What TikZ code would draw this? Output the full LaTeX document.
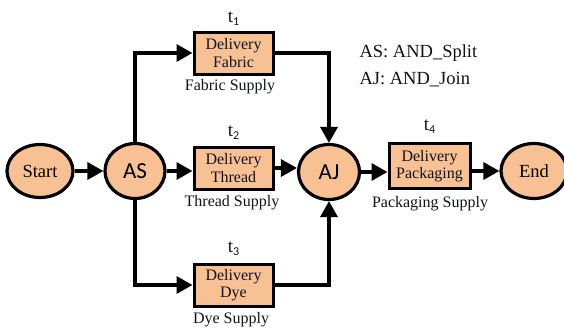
\documentclass[tikz,border=0pt]{standalone}
\usepackage{fontspec}
\setmainfont{Liberation Serif}
\newfontfamily\labfont{Carlito}
\usetikzlibrary{arrows.meta,shapes.geometric}
\definecolor{peach}{HTML}{F8C193}
\definecolor{txt}{HTML}{10131C}
\newcommand{\tsub}[1]{t\raisebox{-0.35ex}{\labfont\fontsize{12}{12}\selectfont #1}}
\tikzset{
  place/.style={ellipse, draw=black, line width=3.2pt, fill=peach, inner sep=0pt},
  trans/.style={draw=black, line width=3pt, fill=peach, minimum width=79pt, minimum height=42pt, align=center, inner sep=0pt, font=\fontsize{16}{17.5}\selectfont, text=txt},
  captext/.style={font=\fontsize{16}{18}\selectfont, text=txt},
  tlab/.style={font=\fontsize{19}{20}\selectfont, text=txt},
  conn/.style={line width=3.4pt, -{Triangle[length=16pt,width=17pt]}},
}
\begin{document}
\begin{tikzpicture}[x=1pt,y=-1pt]
\useasboundingbox (0,0) rectangle (564,327);
\node[place, minimum width=66pt, minimum height=53pt, font=\fontsize{18.5}{20}\selectfont] (start) at (40,171) {Start};
\node[place, minimum width=60pt, minimum height=55pt, font=\labfont\fontsize{23}{24}\selectfont] (as) at (135,171) {AS};
\node[trans] (t1) at (233.5,53) {Delivery\\Fabric};
\node[trans] (t2) at (233.5,168) {Delivery\\Thread};
\node[trans] (t3) at (233.5,285) {Delivery\\Dye};
\node[place, minimum width=61pt, minimum height=55pt, font=\labfont\fontsize{23}{24}\selectfont] (aj) at (329,172) {AJ};
\node[trans, minimum width=81pt, minimum height=45pt] (t4) at (429.5,166) {Delivery\\Packaging};
\node[place, minimum width=66pt, minimum height=55pt, font=\fontsize{18.5}{20}\selectfont] (end) at (534,171) {End};
\node[tlab] (l1) at (233.5,19) {\tsub{1}};
\node[tlab] (l2) at (233.5,133) {\tsub{2}};
\node[tlab] (l3) at (233.5,249) {\tsub{3}};
\node[tlab] (l4) at (429.5,127) {\tsub{4}};
\node[captext] (c1) at (230,87) {Fabric Supply};
\node[captext] (c2) at (232,203) {Thread Supply};
\node[captext] (c3) at (231,320) {Dye Supply};
\node[captext] (c4) at (430,204) {Packaging Supply};
\node[font=\fontsize{18.5}{20}\selectfont, text=txt, anchor=west] (leg1) at (356,53) {AS: AND\_Split};
\node[font=\fontsize{18.5}{20}\selectfont, text=txt, anchor=west] (leg2) at (356,80) {AJ: AND\_Join};
\draw[conn] (start) -- (as);
\draw[conn] (as) -- (as -| t2.west);
\draw[conn] (t2) -- (t2 -| aj.west);
\draw[conn] (aj) -- (aj -| t4.west);
\draw[conn] (t4.east |- end) -- (end);
\draw[conn] (as.north) |- (t1.west);
\draw[conn] (as.south) |- (t3.west);
\draw[conn] (t1.east) -| (aj.north);
\draw[conn] (t3.east) -| (aj.south);
\end{tikzpicture}
\end{document}
